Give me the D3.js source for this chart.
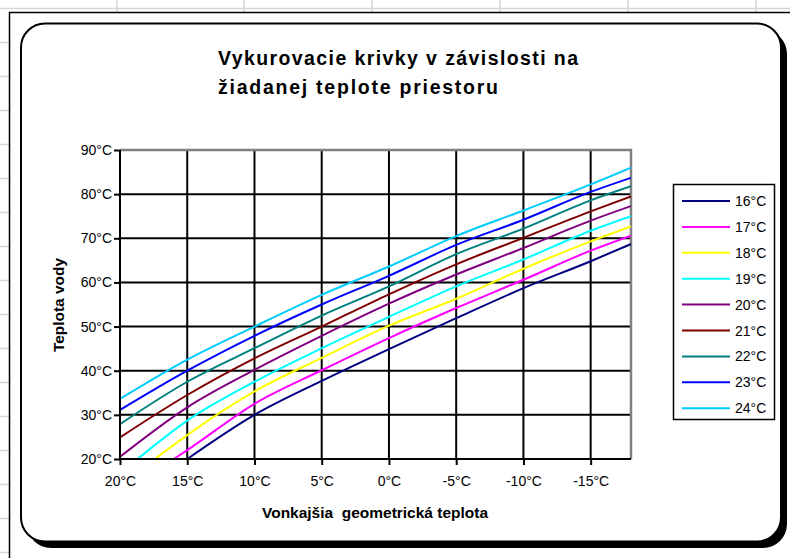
<!DOCTYPE html>
<html><head><meta charset="utf-8">
<script src="https://cdn.jsdelivr.net/npm/d3@7"></script>
<style>
html,body{margin:0;padding:0;background:#fff;}
svg{display:block;font-family:"Liberation Sans",Arial,sans-serif;}
</style></head>
<body>
<script>
// ---- data ----
const outdoorTemps = [20, 15, 10, 5, 0, -5, -10, -15, -18];
const roomTemps = ["16°C","17°C","18°C","19°C","20°C","21°C","22°C","23°C","24°C"];
// outdoor temperature where each curve enters at the 20°C floor (null = no extra start point)
const startTemps = [null, 16.0, 17.4, 18.7, null, null, null, null, null];
const v16 = [null, 20.0, 30.0, 37.7, 44.9, 51.9, 58.7, 64.8, 68.7];
const v17 = [null, 22.0, 32.5, 40.1, 47.4, 54.2, 60.6, 67.2, 70.6];
const v18 = [null, 25.4, 35.3, 42.9, 50.2, 56.3, 63.1, 69.3, 72.7];
const v19 = [null, 28.7, 37.5, 45.1, 52.2, 59.1, 65.2, 71.7, 75.0];
const v20 = [20.5, 31.7, 40.2, 47.9, 55.2, 61.8, 67.8, 74.0, 77.3];
const v21 = [24.9, 34.5, 42.8, 50.0, 57.3, 64.1, 70.1, 76.1, 79.5];
const v22 = [27.9, 37.5, 45.1, 52.5, 59.1, 66.4, 72.2, 78.6, 81.8];
const v23 = [31.1, 40.0, 47.9, 55.0, 61.5, 68.5, 74.2, 80.5, 83.7];
const v24 = [33.6, 42.5, 50.0, 57.2, 63.6, 70.5, 76.3, 82.2, 86.0];
const seriesValues = [v16, v17, v18, v19, v20, v21, v22, v23, v24];
const colors = ["#000080","#FF00FF","#FFFF00","#00FFFF","#800080","#800000","#008080","#0000FF","#00CCFF"];
const xTicks = [20, 15, 10, 5, 0, -5, -10, -15];
const yTicks = [20, 30, 40, 50, 60, 70, 80, 90];
const titleLines = ["Vykurovacie krivky v závislosti na", "žiadanej teplote priestoru"];
const xTitle = "Vonkajšia  geometrická teplota";
const yTitle = "Teplota vody";

// ---- drawing ----
const W = 790, H = 558;
const svg = d3.select("body").append("svg").attr("width", W).attr("height", H);

// spreadsheet background grid
const bg = svg.append("g").attr("stroke", "#d6d6d6").attr("stroke-width", 1.5);
[117, 244, 372, 500, 628, 756].forEach(x => bg.append("line").attr("x1", x).attr("x2", x).attr("y1", 0).attr("y2", 12));
bg.append("line").attr("x1", 0).attr("x2", W).attr("y1", 8.5).attr("y2", 8.5);
for (let y = 42.5; y < H; y += 34) bg.append("line").attr("x1", 0).attr("x2", 9).attr("y1", y).attr("y2", y);

// outer chart area
svg.append("rect").attr("x", 9.5).attr("y", 12.5).attr("width", 800).attr("height", 600)
  .attr("fill", "#fff").attr("stroke", "#000").attr("stroke-width", 1.5);

// shadowed rounded frame
svg.append("rect").attr("x", 27).attr("y", 30).attr("width", 760).attr("height", 518).attr("rx", 24)
  .attr("fill", "#000");
svg.append("rect").attr("x", 21).attr("y", 23.5).attr("width", 760).attr("height", 518).attr("rx", 24)
  .attr("fill", "#fff").attr("stroke", "#000").attr("stroke-width", 2);

// title
titleLines.forEach((t, i) => {
  svg.append("text").attr("x", 218).attr("y", 65 + i * 29)
    .attr("font-size", 19.5).attr("font-weight", "bold")
    .attr("textLength", i === 0 ? 360 : 280).attr("lengthAdjust", "spacing")
    .text(t);
});

const plot = {l: 120, r: 631, t: 150, b: 459};
const x = d3.scaleLinear().domain([20, -18]).range([plot.l, plot.r]);
const y = d3.scaleLinear().domain([20, 90]).range([plot.b, plot.t]);

// grid
const grid = svg.append("g").attr("stroke", "#000").attr("stroke-width", 2);
xTicks.slice(1).forEach(t => grid.append("line").attr("x1", x(t)).attr("x2", x(t)).attr("y1", plot.t).attr("y2", plot.b));
yTicks.slice(1, -1).forEach(t => grid.append("line").attr("x1", plot.l).attr("x2", plot.r).attr("y1", y(t)).attr("y2", y(t)));
// plot border top/right grey
svg.append("path").attr("d", `M${plot.l},${plot.t}H${plot.r}V${plot.b}`)
  .attr("fill", "none").attr("stroke", "#808080").attr("stroke-width", 2.5);

// lines
svg.append("clipPath").attr("id", "clip").append("rect")
  .attr("x", plot.l).attr("y", plot.t - 2).attr("width", plot.r - plot.l).attr("height", plot.b - plot.t + 2);
const line = d3.line().x(d => x(d[0])).y(d => y(d[1])).curve(d3.curveMonotoneX);
const lg = svg.append("g").attr("clip-path", "url(#clip)");
seriesValues.forEach((vals, i) => {
  const pts = [];
  if (startTemps[i] !== null) pts.push([startTemps[i], 20]);
  vals.forEach((v, j) => { if (v !== null) pts.push([outdoorTemps[j], v]); });
  lg.append("path").attr("d", line(pts)).attr("fill", "none")
    .attr("stroke", colors[i]).attr("stroke-width", 2).attr("stroke-linejoin", "round");
});

// axes
const xAxis = d3.axisBottom(x).tickValues(xTicks).tickSize(6).tickFormat(d => d + "°C");
const gx = svg.append("g").attr("transform", `translate(0,${plot.b})`).call(xAxis);
gx.select(".domain").attr("stroke", "#000").attr("stroke-width", 2).attr("d", `M${plot.l},0H${plot.r}`);
gx.selectAll(".tick line").attr("stroke", "#000").attr("stroke-width", 2);
gx.selectAll(".tick text").attr("font-size", 14).attr("font-family", "Liberation Sans, Arial, sans-serif")
  .attr("fill", "#000").attr("dy", "1.25em");

const yAxis = d3.axisLeft(y).tickValues(yTicks).tickSize(6).tickFormat(d => d + "°C");
const gy = svg.append("g").attr("transform", `translate(${plot.l},0)`).call(yAxis);
gy.select(".domain").attr("stroke", "#000").attr("stroke-width", 2).attr("d", `M0,${plot.t}V${plot.b}`);
gy.selectAll(".tick line").attr("stroke", "#000").attr("stroke-width", 2);
gy.selectAll(".tick text").attr("font-size", 14).attr("font-family", "Liberation Sans, Arial, sans-serif")
  .attr("fill", "#000").attr("x", -8);

// axis titles
svg.append("text").attr("x", 262).attr("y", 518)
  .attr("font-size", 14.5).attr("font-weight", "bold").style("white-space", "pre")
  .attr("textLength", 226).attr("lengthAdjust", "spacingAndGlyphs").text(xTitle);
svg.append("text").attr("transform", "translate(64,352) rotate(-90)")
  .attr("font-size", 14).attr("font-weight", "bold")
  .attr("textLength", 94).attr("lengthAdjust", "spacingAndGlyphs").text(yTitle);

// legend
const leg = svg.append("g");
leg.append("rect").attr("x", 673.5).attr("y", 184.5).attr("width", 101).attr("height", 235)
  .attr("fill", "#fff").attr("stroke", "#000").attr("stroke-width", 1.5);
roomTemps.forEach((name, i) => {
  const yy = 201 + i * 25.9;
  leg.append("line").attr("x1", 682).attr("x2", 730).attr("y1", yy).attr("y2", yy)
    .attr("stroke", colors[i]).attr("stroke-width", 2);
  leg.append("text").attr("x", 735).attr("y", yy).attr("dy", "0.36em")
    .attr("font-size", 14).text(name);
});
</script>
</body></html>
